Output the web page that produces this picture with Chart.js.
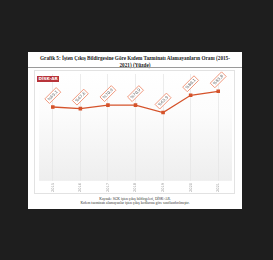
<!DOCTYPE html>
<html><head><meta charset="utf-8">
<script src="https://cdn.jsdelivr.net/npm/chart.js@4.4.0/dist/chart.umd.min.js"></script>
<style>
html,body{margin:0;padding:0;background:#1e1e1e;width:273px;height:260px;overflow:hidden;}
#card{position:absolute;left:28px;top:52px;width:214px;height:157px;background:#fff;}
#title{position:absolute;left:0;top:3px;width:214px;text-align:center;font-family:"Liberation Serif",serif;font-weight:bold;font-size:5.2px;line-height:6.6px;color:#222;}
#rule{position:absolute;left:0;top:15px;width:214px;height:1px;background:#9a9a9a;}
#box{position:absolute;left:6px;top:18px;width:201px;height:124px;border:1px solid #e2e2e2;box-sizing:border-box;}
#logo{position:absolute;left:37px;top:76px;width:22px;height:6px;background:#b8343a;color:#fff;font-family:"DejaVu Sans",sans-serif;font-weight:bold;font-size:4.2px;line-height:6px;padding-left:1.5px;box-sizing:border-box;z-index:5;}
#src{position:absolute;left:0;top:144.5px;width:214px;text-align:center;font-family:"Liberation Serif",serif;font-size:3.7px;line-height:4px;color:#333;}
#cv{position:absolute;left:34px;top:70px;z-index:2;}
</style></head><body>
<div id="card">
<div id="title">Grafik 5: İşten Çıkış Bildirgesine Göre Kıdem Tazminatı Alamayanların Oranı (2015-<br>2021) (Yüzde)</div>
<div id="rule"></div>
<div id="box"></div>
<div id="src">Kaynak: SGK işten çıkış bildirgeleri, DİSK-AR.<br>Kıdem tazminatı alamayanlar işten çıkış kodlarına göre sınıflandırılmıştır.</div>
</div>
<div id="logo">DİSK-AR</div>
<canvas id="cv" width="203" height="125"></canvas>
<script>
const years = ["2015","2016","2017","2018","2019","2020","2021"];
const shares = [69.1, 67.6, 70.9, 70.9, 63.9, 80.1, 83.8];
const labelTexts = ["%69,1","%67,6","%70,9","%70,9","%63,9","%80,1","%83,8"];
const lineColor = '#d5532b';

const bgPlugin = {
  id:'bg',
  beforeDraw(chart){
    const {ctx, chartArea:a} = chart;
    const g = ctx.createLinearGradient(0, a.top, 0, a.bottom);
    g.addColorStop(0, '#ffffff');
    g.addColorStop(0.35, '#fcfcfc');
    g.addColorStop(1, '#eeeeee');
    ctx.save();
    ctx.fillStyle = g;
    ctx.fillRect(a.left, a.top, a.right - a.left, a.bottom - a.top);
    ctx.restore();
  }
};
const labelPlugin = {
  id:'tags',
  afterDatasetsDraw(chart){
    const ctx = chart.ctx;
    const meta = chart.getDatasetMeta(0);
    ctx.save();
    meta.data.forEach((pt, i) => {
      const x = pt.x, y = pt.y - 11.5;
      ctx.save();
      ctx.translate(x, y);
      ctx.rotate(-Math.PI/4);
      ctx.font = '4px "DejaVu Sans", sans-serif';
      const w = 16, h = 6.5;
      ctx.fillStyle = '#fff';
      ctx.fillRect(-w/2, -h/2, w, h);
      ctx.strokeStyle = '#ef9478';
      ctx.lineWidth = 0.9;
      ctx.strokeRect(-w/2, -h/2, w, h);
      ctx.fillStyle = '#666';
      ctx.textAlign = 'center';
      ctx.textBaseline = 'middle';
      ctx.fillText(labelTexts[i], 0, 0.2);
      ctx.restore();
    });
    ctx.restore();
  }
};

new Chart(document.getElementById('cv'), {
  type:'line',
  data:{
    labels: years,
    datasets:[{
      data: shares,
      borderColor: lineColor,
      backgroundColor: lineColor,
      borderWidth: 1.3,
      pointStyle: 'rect',
      pointRadius: 1.6,
      pointHoverRadius: 1.6,
      tension: 0
    }]
  },
  options:{
    responsive:false,
    animation:false,
    devicePixelRatio:1,
    layout:{padding:{left:5, right:5, top:4, bottom:1}},
    plugins:{legend:{display:false}, tooltip:{enabled:false}},
    scales:{
      x:{
        offset:true,
        grid:{offset:false, color:'#e4e4e4', lineWidth:0.7, drawTicks:false},
        border:{display:false},
        ticks:{color:'#999', font:{size:3.6, family:'"DejaVu Sans", sans-serif'}, minRotation:90, maxRotation:90, padding:2}
      },
      y:{display:false, min:0, max:100}
    }
  },
  plugins:[bgPlugin, labelPlugin]
});
</script>
</body></html>
